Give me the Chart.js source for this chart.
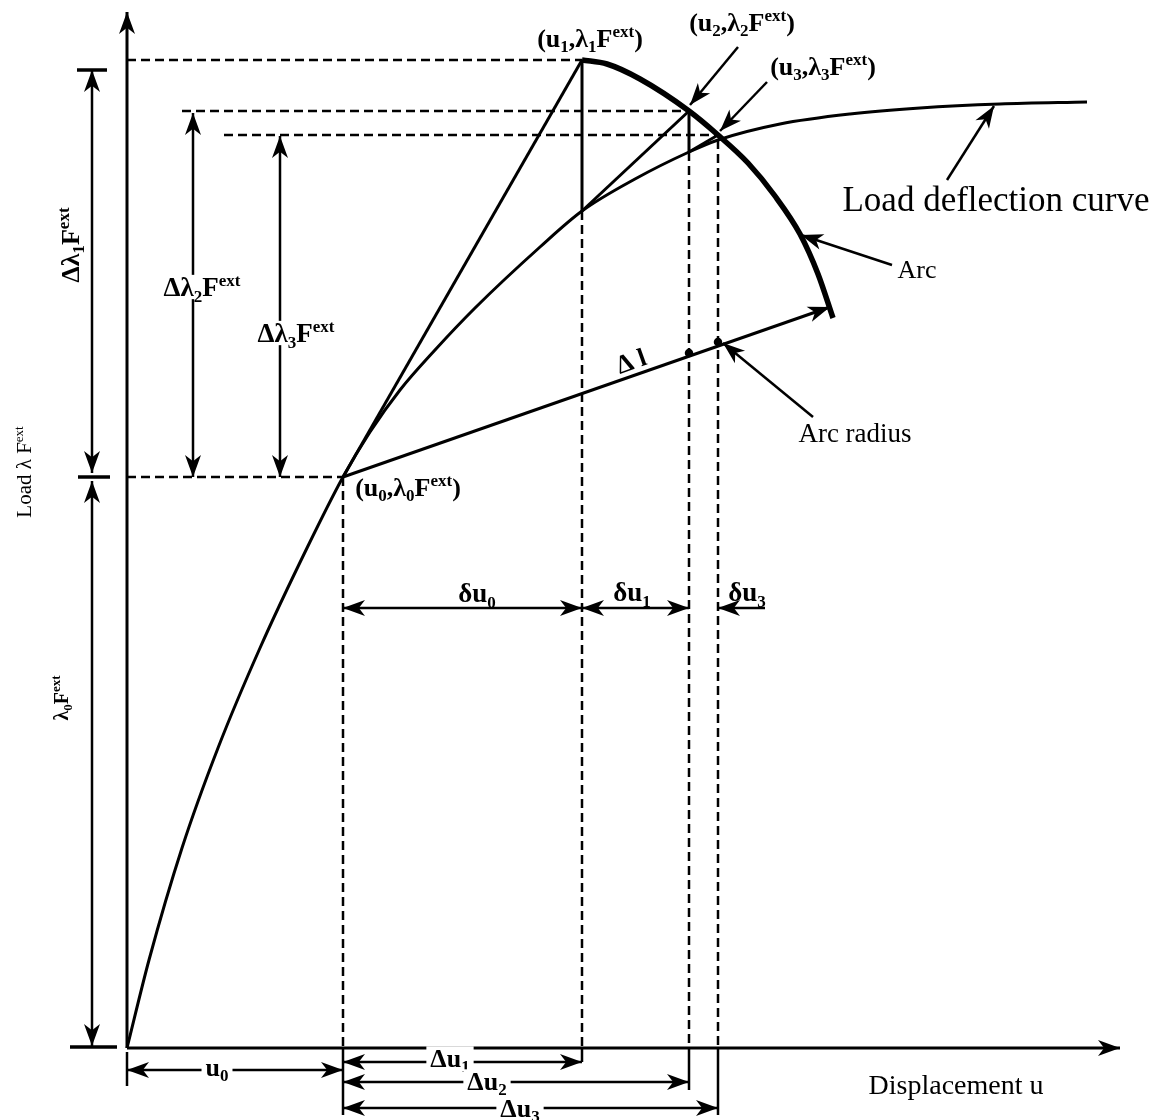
<!DOCTYPE html>
<html>
<head>
<meta charset="utf-8">
<title>Arc-length method</title>
<script src="https://cdn.jsdelivr.net/npm/chart.js@4/dist/chart.umd.min.js"></script>
<style>
  html, body { margin: 0; padding: 0; background: #fff; }
  canvas { display: block; }
</style>
</head>
<body>
<canvas id="sketch" width="1159" height="1120"></canvas>
<script>
// Arc-length method sketch: load-deflection curve with predictor / corrector steps

// equilibrium steps i = 0..3 : displacement u_i and load λ_i F^ext
const stepU = [2.16, 4.55, 5.62, 5.91];
const stepLoad = [5.71, 9.88, 9.37, 9.13];
// load on the true curve directly below each step
const curveLoadAtStep = [5.71, 8.37, 8.96, 9.08];

// load deflection curve
const curveU = [0, 0.22, 0.55, 0.91, 1.33, 1.80, 2.16, 2.43, 2.73, 3.08, 3.48, 4.13, 4.55, 5.08, 5.62, 5.91, 6.53, 7.23, 7.93, 8.73, 9.60];
const curveLoad = [0, 0.88, 2.00, 3.00, 4.00, 5.00, 5.71, 6.16, 6.58, 6.98, 7.40, 8.01, 8.37, 8.69, 8.96, 9.08, 9.24, 9.34, 9.40, 9.44, 9.46];

// constant length arc
const arcU = [4.55, 4.80, 5.13, 5.62, 5.91, 6.21, 6.48, 6.73, 6.91, 7.06];
const arcLoad = [9.88, 9.84, 9.69, 9.37, 9.13, 8.85, 8.52, 8.14, 7.74, 7.30];

// arc radius Δl (end point) and the dots where it crosses the u2 / u3 lines
const radiusEnd = [7.03, 7.41];
const radiusDotU = [5.62, 5.91];
const radiusDotLoad = [6.95, 7.06];

// axis extents
const uMax = 9.93;
const loadMax = 10.36;

// ---- layout only (positions of dimension lines, labels) ----
const view = { uMin: -1.27, uMax: 10.32, loadMin: -0.72, loadMax: 10.48 };
const leftDimU = -0.35;      // Δλ1 / λ0 dimension line
const dl2U = 0.66, dl3U = 1.53;
const deltaRowLoad = 4.40;   // δu row
const belowRows = { u0: -0.22, du1: -0.14, du2: -0.34, du3: -0.60 };

const pts = (us, ls) => us.map((u, i) => ({ x: u, y: ls[i] }));

function seg(points, opts) {
  return Object.assign({
    data: points.map(([u, l]) => ({ x: u, y: l })),
    showLine: true,
    borderColor: "#000",
    backgroundColor: "#000",
    borderWidth: 2.5,
    pointRadius: 0,
    tension: 0,
    fill: false,
  }, opts || {});
}
const dashed = { borderDash: [9, 5], borderWidth: 2.5 };

const datasets = [
  // axes
  seg([[0, 0], [0, loadMax]], { borderWidth: 3, heads: "end" }),
  seg([[0, 0], [uMax, 0]], { borderWidth: 3, heads: "end" }),

  // load deflection curve and arc
  { ...seg([]), data: pts(curveU, curveLoad), borderWidth: 3, cubicInterpolationMode: "monotone" },
  { ...seg([]), data: pts(arcU, arcLoad), borderWidth: 5.5, cubicInterpolationMode: "monotone" },

  // predictors
  seg([[stepU[0], stepLoad[0]], [stepU[1], stepLoad[1]]], { borderWidth: 3 }),
  seg([[stepU[1], curveLoadAtStep[1]], [stepU[2], stepLoad[2]]], { borderWidth: 3 }),
  seg([[stepU[2], curveLoadAtStep[2]], [stepU[3], stepLoad[3]]], { borderWidth: 3 }),
  // correctors
  seg([[stepU[1], stepLoad[1]], [stepU[1], curveLoadAtStep[1]]], { borderWidth: 3 }),
  seg([[stepU[2], stepLoad[2]], [stepU[2], curveLoadAtStep[2]]], { borderWidth: 3 }),

  // arc radius
  seg([[stepU[0], stepLoad[0]], radiusEnd], { borderWidth: 3, heads: "end" }),
  { ...seg([]), data: pts(radiusDotU, radiusDotLoad), showLine: false, pointRadius: 3 },

  // dashed load levels
  seg([[0, stepLoad[1]], [stepU[1], stepLoad[1]]], dashed),
  seg([[0.55, stepLoad[2]], [stepU[2], stepLoad[2]]], dashed),
  seg([[0.97, stepLoad[3]], [stepU[3], stepLoad[3]]], dashed),
  seg([[0, stepLoad[0]], [stepU[0], stepLoad[0]]], dashed),

  // dashed displacement levels
  seg([[stepU[0], stepLoad[0]], [stepU[0], 0]], dashed),
  seg([[stepU[1], curveLoadAtStep[1]], [stepU[1], 0]], dashed),
  seg([[stepU[2], curveLoadAtStep[2]], [stepU[2], 0]], dashed),
  seg([[stepU[3], curveLoadAtStep[3]], [stepU[3], 0]], dashed),

  // extension lines below the axis
  seg([[0, -0.04], [0, -0.38]]),
  seg([[stepU[0], 0], [stepU[0], -0.67]]),
  seg([[stepU[1], 0], [stepU[1], belowRows.du1]]),
  seg([[stepU[2], 0], [stepU[2], -0.42]]),
  seg([[stepU[3], 0], [stepU[3], -0.67]]),

  // left load dimensions
  seg([[leftDimU, stepLoad[0] + 0.04], [leftDimU, 9.78]], { heads: "both" }),
  seg([[leftDimU, 0.02], [leftDimU, stepLoad[0] - 0.04]], { heads: "both" }),
  seg([[-0.50, 9.78], [-0.20, 9.78]], { borderWidth: 3.5 }),
  seg([[-0.49, stepLoad[0]], [-0.17, stepLoad[0]]], { borderWidth: 3.5 }),
  seg([[-0.57, 0.01], [-0.10, 0.01]], { borderWidth: 3.5 }),
  seg([[dl2U, stepLoad[0]], [dl2U, stepLoad[2] - 0.02]], { heads: "both" }),
  seg([[dl3U, stepLoad[0]], [dl3U, stepLoad[3] - 0.01]], { heads: "both" }),

  // δu row
  seg([[stepU[0], deltaRowLoad], [stepU[1], deltaRowLoad]], { heads: "both" }),
  seg([[stepU[1], deltaRowLoad], [stepU[2], deltaRowLoad]], { heads: "both" }),
  seg([[6.38, deltaRowLoad], [stepU[3], deltaRowLoad]], { heads: "end" }),

  // Δu rows under the axis
  seg([[0, belowRows.u0], [stepU[0], belowRows.u0]], { heads: "both" }),
  seg([[stepU[0], belowRows.du1], [stepU[1], belowRows.du1]], { heads: "both" }),
  seg([[stepU[0], belowRows.du2], [stepU[2], belowRows.du2]], { heads: "both" }),
  seg([[stepU[0], belowRows.du3], [stepU[3], belowRows.du3]], { heads: "both" }),

  // pointer arrows from the labels
  seg([[6.11, 10.01], [5.63, 9.43]], { heads: "end" }),
  seg([[6.40, 9.66], [5.93, 9.17]], { heads: "end" }),
  seg([[8.20, 8.68], [8.67, 9.42]], { heads: "end" }),
  seg([[7.65, 7.83], [6.74, 8.13]], { heads: "end" }),
  seg([[6.86, 6.31], [5.96, 7.05]], { heads: "end" }),
];

const labels = [
  { t: "(u_1,λ_1F^{ext})", u: 4.63, l: 10.10, size: 26, bold: true },
  { t: "(u_2,λ_2F^{ext})", u: 6.15, l: 10.26, size: 26, bold: true },
  { t: "(u_3,λ_3F^{ext})", u: 6.96, l: 9.82, size: 26, bold: true },
  { t: "(u_0,λ_0F^{ext})", u: 2.81, l: 5.61, size: 26, bold: true },
  { t: "Load deflection curve", u: 8.69, l: 8.49, size: 35 },
  { t: "Arc", u: 7.90, l: 7.79, size: 26 },
  { t: "Arc radius", u: 7.28, l: 6.15, size: 27 },
  { t: "Δ l", u: 5.04, l: 6.87, size: 26, bold: true, rot: -0.34 },
  { t: "δu_0", u: 3.50, l: 4.55, size: 27, bold: true },
  { t: "δu_1", u: 5.05, l: 4.56, size: 27, bold: true },
  { t: "δu_3", u: 6.20, l: 4.56, size: 27, bold: true },
  { t: "u_0", u: 0.90, l: -0.19, size: 26, bold: true, bg: true },
  { t: "Δu_1", u: 3.23, l: -0.10, size: 26, bold: true, bg: true },
  { t: "Δu_2", u: 3.60, l: -0.33, size: 26, bold: true, bg: true },
  { t: "Δu_3", u: 3.93, l: -0.60, size: 26, bold: true, bg: true },
  { t: "Displacement u", u: 8.29, l: -0.37, size: 28 },
  { t: "Δλ_2F^{ext}", u: 0.75, l: 7.61, size: 27, bold: true, bg: true },
  { t: "Δλ_3F^{ext}", u: 1.69, l: 7.15, size: 27, bold: true, bg: true },
  { t: "Δλ_1F^{ext}", u: -0.57, l: 8.03, size: 26, bold: true, rot: -Math.PI / 2 },
  { t: "λ_0F^{ext}", u: -0.66, l: 3.50, size: 20, bold: true, rot: -Math.PI / 2 },
  { t: "Load λ F^{ext}", u: -1.03, l: 5.76, size: 21, rot: -Math.PI / 2 },
];

// "_x" / "_{..}" subscript, "^x" / "^{..}" superscript
function parseRich(s) {
  const parts = [];
  let buf = "";
  let i = 0;
  while (i < s.length) {
    const c = s[i];
    if (c === "_" || c === "^") {
      if (buf) { parts.push([buf, 0]); buf = ""; }
      let t;
      if (s[i + 1] === "{") {
        const j = s.indexOf("}", i);
        t = s.slice(i + 2, j);
        i = j + 1;
      } else {
        t = s[i + 1];
        i += 2;
      }
      parts.push([t, c === "_" ? -1 : 1]);
    } else {
      buf += c;
      i++;
    }
  }
  if (buf) parts.push([buf, 0]);
  return parts;
}

function drawLabel(ctx, lab, px, py) {
  const size = lab.size;
  const small = Math.round(size * 0.64);
  const weight = lab.bold ? "bold " : "";
  const fontFor = (m) => `${weight}${m ? small : size}px "Liberation Serif", "Times New Roman", serif`;
  const parts = parseRich(lab.t);
  let w = 0;
  parts.forEach(([t, m]) => {
    ctx.font = fontFor(m);
    w += ctx.measureText(t).width;
  });
  ctx.save();
  ctx.translate(px, py);
  if (lab.rot) ctx.rotate(lab.rot);
  if (lab.bg) {
    ctx.fillStyle = "#fff";
    ctx.fillRect(-w / 2 - 4, -size * 0.45, w + 8, size * 0.9);
  }
  ctx.fillStyle = "#000";
  ctx.textAlign = "left";
  ctx.textBaseline = "alphabetic";
  let cx = -w / 2;
  const base = size * 0.33;
  parts.forEach(([t, m]) => {
    ctx.font = fontFor(m);
    const dy = m === -1 ? size * 0.22 : m === 1 ? -size * 0.38 : 0;
    ctx.fillText(t, cx, base + dy);
    cx += ctx.measureText(t).width;
  });
  ctx.restore();
}

function drawHead(ctx, from, tip) {
  const ang = Math.atan2(tip.y - from.y, tip.x - from.x);
  const L = 22, W = 8;
  ctx.save();
  ctx.translate(tip.x, tip.y);
  ctx.rotate(ang);
  ctx.beginPath();
  ctx.moveTo(0, 0);
  ctx.lineTo(-L, -W);
  ctx.lineTo(-L * 0.72, 0);
  ctx.lineTo(-L, W);
  ctx.closePath();
  ctx.fillStyle = "#000";
  ctx.fill();
  ctx.restore();
}

const sketchPlugin = {
  id: "sketch",
  afterDatasetsDraw(chart) {
    const ctx = chart.ctx;
    chart.data.datasets.forEach((ds, i) => {
      if (!ds.heads) return;
      const els = chart.getDatasetMeta(i).data;
      const n = els.length;
      if (ds.heads === "end" || ds.heads === "both") drawHead(ctx, els[n - 2], els[n - 1]);
      if (ds.heads === "both") drawHead(ctx, els[1], els[0]);
    });
    const xs = chart.scales.x, ys = chart.scales.y;
    labels.forEach((lab) => {
      drawLabel(ctx, lab, xs.getPixelForValue(lab.u), ys.getPixelForValue(lab.l));
    });
  },
};

new Chart(document.getElementById("sketch"), {
  type: "scatter",
  data: { datasets: datasets },
  options: {
    responsive: false,
    animation: false,
    devicePixelRatio: 1,
    layout: { padding: 0, autoPadding: false },
    elements: { point: { radius: 0, hoverRadius: 0 } },
    plugins: { legend: { display: false }, tooltip: { enabled: false } },
    events: [],
    scales: {
      x: { type: "linear", min: view.uMin, max: view.uMax, display: false },
      y: { type: "linear", min: view.loadMin, max: view.loadMax, display: false },
    },
  },
  plugins: [sketchPlugin],
});
</script>
</body>
</html>
